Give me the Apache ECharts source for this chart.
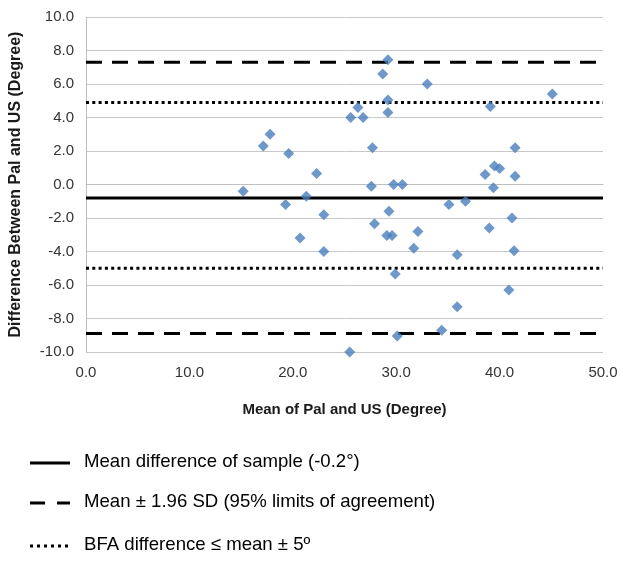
<!DOCTYPE html>
<html>
<head>
<meta charset="utf-8">
<script src="https://cdn.jsdelivr.net/npm/echarts@6/dist/echarts.min.js"></script>
<style>
html,body{margin:0;padding:0;background:#fff;}
#chart{width:629px;height:566px;}
</style>
</head>
<body>
<div id="chart"></div>
<script>
// Mean of Pal and US (Degree)
var meanVals = [15.2, 17.15, 17.8, 19.6, 19.3, 20.7, 21.3, 22.3, 23.0, 23.0,
  25.5, 25.6, 26.3, 26.8, 27.7, 27.6, 27.9, 28.7, 29.2, 29.2,
  29.2, 29.3, 29.1, 29.6, 29.75, 30.6, 29.9, 30.1, 31.7, 32.1,
  33.0, 34.4, 35.1, 35.9, 35.9, 36.7, 38.6, 39.0, 39.1, 39.4,
  39.5, 40.0, 40.9, 41.2, 41.4, 41.5, 41.5, 45.1];
// Difference Between Pal and US (Degree)
var diffVals = [-0.4, 2.3, 3.0, 1.85, -1.2, -3.2, -0.7, 0.65, -1.8, -4.0,
  -10.0, 4.0, 4.6, 4.0, 2.2, -0.1, -2.35, 6.6, 7.45, 5.05,
  4.3, -1.6, -3.05, -3.05, 0.0, 0.0, -5.35, -9.05, -3.8, -2.8,
  6.0, -8.7, -1.2, -4.2, -7.3, -1.0, 0.6, -2.6, 4.65, -0.2,
  1.1, 0.95, -6.3, -2.0, -3.95, 2.2, 0.5, 5.4];
var meanDiff = -0.8;
var limitsOfAgreement = [7.3, -8.9];
var bfaLimits = [4.9, -5.0];
var xRange = [0, 50];
var yTicks = [-10, -8, -6, -4, -2, 0, 2, 4, 6, 8, 10];
var legendLabels = [
  'Mean difference of sample (-0.2°)',
  'Mean ± 1.96 SD (95% limits of agreement)',
  'BFA difference ≤ mean ± 5º'
];

var points = meanVals.map(function(v, i){ return [v, diffVals[i]]; });
function hline(y){ return [[xRange[0], y], [xRange[1], y]]; }

var chart = echarts.init(document.getElementById('chart'));
var font = 'Liberation Sans, Arial, sans-serif';
var series = [
  { type:'line', data: hline(meanDiff), symbol:'none', silent:true,
    lineStyle:{color:'#000', width:3, type:'solid'}, z:2 },
  { type:'line', data: hline(limitsOfAgreement[0]), symbol:'none', silent:true,
    lineStyle:{color:'#000', width:3, type:[16,10]}, z:2 },
  { type:'line', data: hline(limitsOfAgreement[1]), symbol:'none', silent:true,
    lineStyle:{color:'#000', width:3, type:[16,10]}, z:2 },
  { type:'line', data: hline(bfaLimits[0]), symbol:'none', silent:true,
    lineStyle:{color:'#000', width:3, type:[3,3.3]}, z:2 },
  { type:'line', data: hline(bfaLimits[1]), symbol:'none', silent:true,
    lineStyle:{color:'#000', width:3, type:[3,3.3]}, z:2 },
  { type:'scatter', data: points, symbol:'diamond', symbolSize:11,
    itemStyle:{color:'#4a7ebb'}, z:3 }
];

var legY = [463, 503, 546];
var graphic = [
  { type:'line', shape:{x1:30, y1:legY[0], x2:70, y2:legY[0]}, style:{stroke:'#000', lineWidth:3} },
  { type:'line', shape:{x1:30, y1:legY[1], x2:45, y2:legY[1]}, style:{stroke:'#000', lineWidth:3} },
  { type:'line', shape:{x1:57, y1:legY[1], x2:70, y2:legY[1]}, style:{stroke:'#000', lineWidth:3} },
  { type:'line', shape:{x1:30, y1:legY[2], x2:72, y2:legY[2]}, style:{stroke:'#000', lineWidth:3, lineDash:[3,4]} }
];
legendLabels.forEach(function(t, i){
  graphic.push({ type:'text', left:84, top:legY[i]-11,
    style:{text:t, fill:'#000', font:'18.6px ' + font, textVerticalAlign:'top'} });
});

chart.setOption({
  animation:false,
  backgroundColor:'#fff',
  grid:{left:86, right:26, top:17, bottom:214, containLabel:false},
  xAxis:{
    type:'value', min:0, max:50, interval:10,
    name:'Mean of Pal and US (Degree)', nameLocation:'middle', nameGap:50,
    nameTextStyle:{fontFamily:font, fontWeight:'bold', fontSize:15, color:'#1a1a1a'},
    axisLine:{show:true, lineStyle:{color:'#bfbfbf', width:1}},
    axisTick:{show:false},
    splitLine:{show:false},
    axisLabel:{formatter:function(v){return v.toFixed(1);}, fontFamily:font, fontSize:15, color:'#333', margin:13}
  },
  yAxis:{
    type:'value', min:yTicks[0], max:yTicks[yTicks.length-1], interval:2,
    name:'Difference Between Pal and US (Degree)', nameLocation:'middle', nameGap:62,
    nameTextStyle:{fontFamily:font, fontWeight:'bold', fontSize:16, color:'#1a1a1a'},
    axisLine:{show:true, lineStyle:{color:'#bfbfbf', width:1}},
    axisTick:{show:false},
    splitLine:{show:true, lineStyle:{color:'#c8c8c8', width:1}},
    axisLabel:{formatter:function(v){return v.toFixed(1);}, fontFamily:font, fontSize:15, color:'#333', margin:12}
  },
  series: series,
  graphic: graphic
});
</script>
</body>
</html>
